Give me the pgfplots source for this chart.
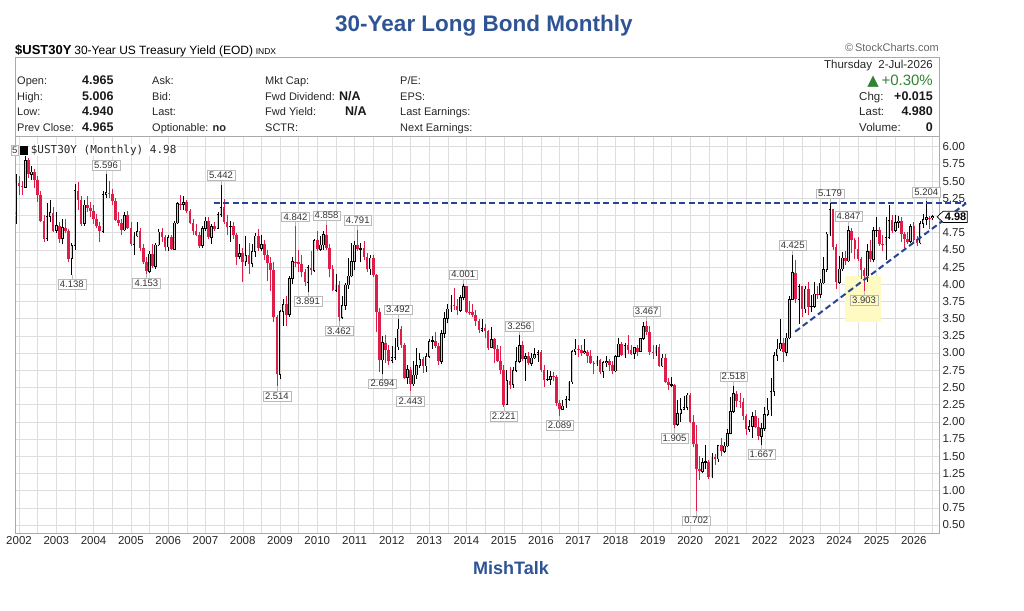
\documentclass[border=0pt]{standalone}
\usepackage{pgfplots}
\pgfplotsset{compat=1.18}
\usepackage{pgfplotstable}
\usepackage{fontspec}
\setmainfont{Liberation Sans}
\newfontfamily\dejavu{DejaVu Sans}
\newfontfamily\monofont{DejaVu Sans Mono}
\definecolor{titleblue}{RGB}{46,84,150}
\definecolor{candlered}{RGB}{222,30,72}
\definecolor{linenavy}{RGB}{40,68,150}
\definecolor{upgreen}{RGB}{50,130,50}
\definecolor{gridgray}{RGB}{222,222,222}
\definecolor{framegray}{RGB}{170,170,170}
\definecolor{lblgray}{RGB}{185,185,185}
\definecolor{hiyellow}{RGB}{255,250,195}

\pgfplotstableread{
i o h l c
-1 5.05 5.60 4.88 5.47
0 5.47 5.58 5.30 5.43
1 5.43 5.50 5.30 5.41
2 5.41 5.86 5.40 5.80
3 5.80 5.84 5.55 5.60
4 5.60 5.72 5.52 5.63
5 5.63 5.68 5.40 5.51
6 5.51 5.58 5.20 5.30
7 5.30 5.35 4.90 4.92
8 4.92 5.00 4.62 4.66
9 4.66 5.18 4.63 4.98
10 4.98 5.22 4.90 5.04
11 5.04 5.12 4.76 4.78
12 4.78 5.05 4.75 4.85
13 4.85 4.90 4.60 4.66
14 4.66 4.95 4.58 4.82
15 4.82 4.95 4.75 4.78
16 4.78 4.80 4.32 4.37
17 4.37 4.60 4.138 4.56
18 4.56 5.45 4.50 5.36
19 5.36 5.48 5.08 5.22
20 5.22 5.28 4.85 4.88
21 4.88 5.22 4.85 5.15
22 5.15 5.28 5.05 5.11
23 5.11 5.20 4.98 5.07
24 5.07 5.15 4.88 4.95
25 4.95 5.02 4.82 4.84
26 4.84 4.90 4.62 4.77
27 4.77 5.36 4.75 5.30
28 5.30 5.596 5.25 5.33
29 5.33 5.50 5.25 5.31
30 5.31 5.38 5.15 5.21
31 5.21 5.25 4.92 4.93
32 4.93 5.05 4.84 4.89
33 4.89 4.95 4.72 4.79
34 4.79 5.05 4.78 5.00
35 5.00 5.07 4.80 4.82
36 4.82 4.90 4.55 4.58
37 4.58 4.76 4.43 4.70
38 4.70 4.90 4.68 4.77
39 4.77 4.82 4.48 4.52
40 4.52 4.58 4.30 4.32
41 4.32 4.40 4.153 4.19
42 4.19 4.48 4.17 4.44
43 4.44 4.58 4.24 4.26
44 4.26 4.60 4.22 4.57
45 4.57 4.80 4.55 4.76
46 4.76 4.82 4.62 4.69
47 4.69 4.72 4.48 4.54
48 4.54 4.72 4.48 4.68
49 4.68 4.72 4.50 4.51
50 4.51 4.92 4.50 4.89
51 4.89 5.20 4.87 5.17
52 5.17 5.30 5.08 5.16
53 5.16 5.28 5.08 5.19
54 5.19 5.23 5.03 5.07
55 5.07 5.10 4.87 4.89
56 4.89 4.95 4.72 4.77
57 4.77 4.88 4.70 4.72
58 4.72 4.76 4.52 4.56
59 4.56 4.84 4.53 4.81
60 4.81 4.98 4.78 4.92
61 4.92 4.98 4.66 4.68
62 4.68 4.88 4.58 4.84
63 4.84 4.90 4.77 4.81
64 4.81 5.05 4.80 5.01
65 5.01 5.442 4.98 5.12
66 5.12 5.24 4.88 4.91
67 4.91 5.00 4.72 4.83
68 4.83 4.92 4.62 4.84
69 4.84 4.90 4.66 4.72
70 4.72 4.74 4.28 4.40
71 4.40 4.58 4.36 4.45
72 4.45 4.52 4.03 4.33
73 4.33 4.70 4.26 4.42
74 4.42 4.60 4.15 4.30
75 4.30 4.58 4.25 4.48
76 4.48 4.74 4.40 4.70
77 4.70 4.80 4.48 4.52
78 4.52 4.72 4.48 4.58
79 4.58 4.64 4.35 4.42
80 4.42 4.50 4.05 4.31
81 4.31 4.40 3.90 4.20
82 4.20 4.32 3.45 3.52
83 3.52 3.55 2.514 2.69
84 2.69 3.62 2.62 3.60
85 3.60 3.78 3.40 3.71
86 3.71 3.83 3.39 3.56
87 3.56 4.12 3.52 4.08
88 4.08 4.40 4.00 4.33
89 4.33 4.842 4.25 4.32
90 4.32 4.50 4.18 4.30
91 4.30 4.42 4.10 4.18
92 4.18 4.22 3.98 4.03
93 4.03 4.28 3.891 4.24
94 4.24 4.48 4.13 4.20
95 4.20 4.66 4.18 4.64
96 4.64 4.77 4.48 4.51
97 4.51 4.70 4.49 4.57
98 4.57 4.78 4.50 4.72
99 4.72 4.858 4.50 4.53
100 4.53 4.58 4.10 4.22
101 4.22 4.28 3.90 3.91
102 3.91 4.15 3.88 3.99
103 3.99 4.05 3.462 3.52
104 3.52 3.83 3.50 3.69
105 3.69 4.02 3.63 3.99
106 3.99 4.38 3.93 4.12
107 4.12 4.60 4.10 4.33
108 4.33 4.63 4.20 4.57
109 4.57 4.791 4.48 4.51
110 4.51 4.60 4.32 4.52
111 4.52 4.63 4.35 4.40
112 4.40 4.46 4.18 4.22
113 4.22 4.42 4.14 4.38
114 4.38 4.43 4.10 4.13
115 4.13 4.15 3.30 3.60
116 3.60 3.65 2.72 2.90
117 2.90 3.25 2.694 3.15
118 3.15 3.26 2.86 3.05
119 3.05 3.12 2.82 2.89
120 2.89 3.10 2.85 2.94
121 2.94 3.22 2.90 3.09
122 3.09 3.492 3.05 3.35
123 3.35 3.40 3.08 3.12
124 3.12 3.15 2.62 2.64
125 2.64 2.83 2.55 2.76
126 2.76 2.80 2.443 2.55
127 2.55 2.88 2.52 2.68
128 2.68 3.08 2.62 2.82
129 2.82 3.00 2.78 2.91
130 2.91 2.94 2.71 2.81
131 2.81 3.00 2.72 2.95
132 2.95 3.20 2.93 3.17
133 3.17 3.25 3.06 3.18
134 3.18 3.30 3.08 3.10
135 3.10 3.15 2.83 2.88
136 2.88 3.34 2.84 3.28
137 3.28 3.60 3.22 3.50
138 3.50 3.72 3.43 3.64
139 3.64 3.84 3.60 3.70
140 3.70 3.94 3.62 3.68
141 3.68 3.79 3.55 3.62
142 3.62 3.85 3.60 3.81
143 3.81 4.001 3.77 3.97
144 3.97 3.98 3.58 3.60
145 3.60 3.75 3.55 3.59
146 3.59 3.72 3.52 3.56
147 3.56 3.62 3.40 3.47
148 3.47 3.50 3.29 3.33
149 3.33 3.50 3.30 3.36
150 3.36 3.42 3.22 3.32
151 3.32 3.33 3.04 3.08
152 3.08 3.38 3.07 3.20
153 3.20 3.22 2.85 3.06
154 3.06 3.12 2.87 2.89
155 2.89 3.10 2.70 2.75
156 2.75 2.83 2.221 2.25
157 2.25 2.75 2.24 2.60
158 2.60 2.79 2.48 2.54
159 2.54 2.79 2.49 2.75
160 2.75 3.09 2.72 2.88
161 2.88 3.256 2.85 3.11
162 3.11 3.18 2.88 2.92
163 2.92 3.00 2.60 2.95
164 2.95 3.02 2.82 2.85
165 2.85 3.00 2.81 2.93
166 2.93 3.08 2.92 2.98
167 2.98 3.05 2.87 3.01
168 3.01 3.05 2.72 2.75
169 2.75 2.82 2.50 2.61
170 2.61 2.75 2.59 2.62
171 2.62 2.74 2.54 2.66
172 2.66 2.72 2.60 2.65
173 2.65 2.68 2.23 2.28
174 2.28 2.32 2.089 2.18
175 2.18 2.32 2.17 2.23
176 2.23 2.38 2.20 2.32
177 2.32 2.60 2.30 2.58
178 2.58 3.05 2.55 3.02
179 3.02 3.20 2.97 3.06
180 3.06 3.11 2.94 3.05
181 3.05 3.11 2.96 3.00
182 3.00 3.20 2.98 3.02
183 3.02 3.04 2.86 2.96
184 2.96 3.04 2.84 2.86
185 2.86 2.89 2.69 2.84
186 2.84 2.95 2.81 2.90
187 2.90 2.92 2.70 2.73
188 2.73 2.89 2.64 2.86
189 2.86 2.95 2.79 2.88
190 2.88 2.91 2.74 2.83
191 2.83 2.88 2.70 2.74
192 2.74 2.97 2.72 2.95
193 2.95 3.22 2.94 3.13
194 3.13 3.16 2.95 2.97
195 2.97 3.14 2.93 3.11
196 3.11 3.26 2.98 3.04
197 3.04 3.12 2.97 2.99
198 2.99 3.09 2.92 3.08
199 3.08 3.11 2.96 3.02
200 3.02 3.22 3.01 3.21
201 3.21 3.45 3.19 3.39
202 3.39 3.467 3.26 3.31
203 3.31 3.39 2.97 3.02
204 3.02 3.11 2.91 3.00
205 3.00 3.12 2.95 3.09
206 3.09 3.13 2.79 2.81
207 2.81 2.98 2.80 2.93
208 2.93 2.99 2.56 2.58
209 2.58 2.63 2.46 2.53
210 2.53 2.65 2.50 2.54
211 2.54 2.55 1.905 1.96
212 1.96 2.32 1.94 2.12
213 2.12 2.35 2.00 2.18
214 2.18 2.38 2.17 2.21
215 2.21 2.42 2.17 2.39
216 2.39 2.42 1.99 2.00
217 2.00 2.10 1.63 1.68
218 1.68 1.95 0.702 1.32
219 1.32 1.50 1.16 1.28
220 1.28 1.48 1.25 1.41
221 1.41 1.67 1.32 1.42
222 1.42 1.45 1.17 1.20
223 1.20 1.55 1.19 1.49
224 1.49 1.53 1.37 1.46
225 1.46 1.67 1.42 1.66
226 1.66 1.77 1.50 1.57
227 1.57 1.70 1.54 1.65
228 1.65 1.90 1.63 1.83
229 1.83 2.36 1.82 2.15
230 2.15 2.518 2.13 2.41
231 2.41 2.45 2.21 2.30
232 2.30 2.42 2.20 2.29
233 2.29 2.35 2.03 2.09
234 2.09 2.12 1.81 1.89
235 1.89 2.03 1.85 1.93
236 1.93 2.14 1.77 2.08
237 2.08 2.17 1.91 1.93
238 1.93 2.06 1.74 1.79
239 1.79 1.98 1.667 1.90
240 1.90 2.21 1.87 2.11
241 2.11 2.34 2.08 2.17
242 2.17 2.63 2.08 2.44
243 2.44 3.02 2.38 2.96
244 2.96 3.20 2.88 3.06
245 3.06 3.49 3.03 3.14
246 3.14 3.22 2.87 3.01
247 3.01 3.29 2.95 3.22
248 3.22 3.83 3.20 3.78
249 3.78 4.425 3.77 4.17
250 4.17 4.35 3.73 3.78
251 3.78 4.00 3.42 3.97
252 3.97 3.98 3.53 3.64
253 3.64 3.98 3.58 3.93
254 3.93 4.03 3.56 3.67
255 3.67 3.84 3.60 3.68
256 3.68 4.03 3.65 3.86
257 3.86 3.98 3.79 3.85
258 3.85 4.08 3.80 4.02
259 4.02 4.40 4.01 4.21
260 4.21 4.76 4.18 4.73
261 4.73 5.179 4.70 5.09
262 5.09 5.10 4.50 4.54
263 4.54 4.58 3.93 4.03
264 4.03 4.41 4.00 4.22
265 4.22 4.47 4.19 4.38
266 4.38 4.48 4.28 4.34
267 4.34 4.847 4.32 4.78
268 4.78 4.82 4.45 4.65
269 4.65 4.67 4.36 4.51
270 4.51 4.68 4.34 4.36
271 4.36 4.40 4.08 4.20
272 4.20 4.24 3.903 4.12
273 4.12 4.58 4.03 4.48
274 4.48 4.65 4.33 4.36
275 4.36 4.83 4.32 4.78
276 4.78 4.98 4.69 4.79
277 4.79 4.83 4.55 4.59
278 4.59 4.72 4.49 4.57
279 4.57 4.98 4.35 4.68
280 4.68 5.15 4.66 4.93
281 4.93 5.00 4.74 4.78
282 4.78 5.00 4.76 4.90
283 4.90 4.99 4.82 4.92
284 4.92 4.98 4.62 4.73
285 4.73 4.76 4.52 4.66
286 4.66 4.76 4.59 4.62
287 4.62 4.88 4.60 4.84
288 4.84 4.90 4.60 4.65
289 4.65 4.70 4.55 4.60
290 4.60 4.92 4.58 4.88
291 4.88 5.02 4.82 4.94
292 4.94 5.204 4.86 4.97
293 4.97 4.99 4.80 4.965
294 4.965 5.006 4.94 4.98
}\ohlc

\tikzset{
  lbl/.style={draw=lblgray, fill=white, font=\fontsize{9.5}{10}\selectfont, text=black!80, inner xsep=2pt, inner ysep=1.5pt},
  hdr/.style={font=\fontsize{11}{12}\selectfont, anchor=base west, inner sep=0pt, text=black!85},
  hdrb/.style={font=\bfseries\fontsize{12.5}{13}\selectfont, anchor=base west, inner sep=0pt, text=black!90},
  rhdr/.style={font=\fontsize{11.5}{12}\selectfont, anchor=base west, inner sep=0pt, text=black!85},
  rhdrb/.style={font=\bfseries\fontsize{12.5}{13}\selectfont, anchor=base east, inner sep=0pt, text=black!90},
}
\newcommand{\hilab}[3]{\draw[draw=lblgray] (axis cs:#1,#2) -- ++(0pt,4.5pt) node[lbl,anchor=south]{#3};}
\newcommand{\lolab}[3]{\draw[draw=lblgray] (axis cs:#1,#2) -- ++(0pt,-4.5pt) node[lbl,anchor=north]{#3};}

\begin{document}
\begin{tikzpicture}[x=1pt,y=1pt]
\path[use as bounding box] (0,0) rectangle (1024,610);
% title
\node[anchor=base west, inner sep=0pt, font=\bfseries\fontsize{22.5}{26}\selectfont, text=titleblue] at (335,578) {30-Year Long Bond Monthly};
% symbol line
\node[anchor=base west, inner sep=0pt] at (15,555.7) {{\bfseries\fontsize{13}{14}\selectfont \$UST30Y} {\fontsize{12}{13}\selectfont 30-Year US Treasury Yield (EOD)} {\fontsize{8.5}{9}\selectfont INDX}};
\node[anchor=base east, inner sep=0pt, text=black!60, font=\fontsize{11}{12}\selectfont] at (939,558) {\textcopyright\,StockCharts.com};
% header box
\draw[draw=framegray] (15,553) rectangle (939,474);
\node[hdr] at (17,525) {Open:};      \node[hdrb] at (82,525) {4.965};
\node[hdr] at (17,509.5) {High:};    \node[hdrb] at (82,509.5) {5.006};
\node[hdr] at (17,494) {Low:};       \node[hdrb] at (82,494) {4.940};
\node[hdr] at (17,478.5) {Prev Close:}; \node[hdrb] at (82,478.5) {4.965};
\node[hdr] at (152,525) {Ask:};
\node[hdr] at (152,509.5) {Bid:};
\node[hdr] at (152,494) {Last:};
\node[hdr] at (152,478.5) {Optionable: \textbf{no}};
\node[hdr] at (265,525) {Mkt Cap:};
\node[hdr] at (265,509.5) {Fwd Dividend:}; \node[hdrb] at (339,509.5) {N/A};
\node[hdr] at (265,494) {Fwd Yield:};      \node[hdrb] at (345,494) {N/A};
\node[hdr] at (265,478.5) {SCTR:};
\node[hdr] at (400,525) {P/E:};
\node[hdr] at (400,509.5) {EPS:};
\node[hdr] at (400,494) {Last Earnings:};
\node[hdr] at (400,478.5) {Next Earnings:};
% right block
\node[anchor=base east, inner sep=0pt, font=\fontsize{11.5}{12}\selectfont, text=black!85] at (933,541.5) {Thursday\ \ 2-Jul-2026};
\node[anchor=base east, inner sep=0pt, font=\fontsize{15}{16}\selectfont, text=upgreen] at (933,524.5) {{\dejavu ▲}\,+0.30\%};
\node[rhdr] at (859,509.5) {Chg:};    \node[rhdrb] at (933,509.5) {+0.015};
\node[rhdr] at (859,494) {Last:};     \node[rhdrb] at (933,494) {4.980};
\node[rhdr] at (859,478) {Volume:};   \node[rhdrb] at (933,478) {0};

\begin{axis}[
  at={(15pt,77pt)}, anchor=south west,
  scale only axis, width=924pt, height=397pt,
  xmin=-1.29, xmax=296.1, ymin=0.384, ymax=6.155,
  clip=false,
  axis line style={draw=framegray},
  xtick={0,12,...,288},
  xticklabels={2002,2003,2004,2005,2006,2007,2008,2009,2010,2011,2012,2013,2014,2015,2016,2017,2018,2019,2020,2021,2022,2023,2024,2025,2026},
  minor xtick={6,18,...,294},
  ytick={0.5,0.75,1,1.25,1.5,1.75,2,2.25,2.5,2.75,3,3.25,3.5,3.75,4,4.25,4.5,4.75,5.25,5.5,5.75,6},
  extra y ticks={5},
  extra y tick labels={},
  extra y tick style={grid=major, major grid style={draw=gridgray}, tick style={draw=none}},
  yticklabel pos=right,
  yticklabel={\pgfmathprintnumber[fixed,fixed zerofill,precision=2]{\tick}},
  /pgf/number format/assume math mode=true,
  grid=both,
  major grid style={draw=gridgray},
  minor grid style={draw=gridgray},
  tick style={draw=none},
  tick label style={font=\fontsize{11.5}{13}\selectfont, text=black!85},
]
% highlight
\fill[hiyellow] (axis cs:265.9,3.452) rectangle (axis cs:277.4,4.121);
% wicks of rising months (black)
\addplot[forget plot, mark=none, draw=black, line width=0.7pt, line cap=butt,
  quiver={u=0, v={(1-(\thisrow{c}<\thisrow{o}))*(\thisrow{h}-\thisrow{l})}}]
  table[x=i, y=l] {\ohlc};
% wicks of falling months (red)
\addplot[forget plot, mark=none, draw=candlered, line width=0.7pt, line cap=butt,
  quiver={u=0, v={(\thisrow{c}<\thisrow{o})*(\thisrow{h}-\thisrow{l})}}]
  table[x=i, y=l] {\ohlc};
% hollow bodies of rising months: outline
\addplot[forget plot, mark=none, draw=black, line width=2.6pt, line cap=butt,
  quiver={u=0, v={(1-(\thisrow{c}<\thisrow{o}))*(\thisrow{c}-\thisrow{o}+0.01)}}]
  table[x=i, y expr={\thisrow{o}-0.005}] {\ohlc};
% hollow bodies of rising months: inside
\addplot[forget plot, mark=none, draw=gray!40, line width=1.0pt, line cap=butt,
  quiver={u=0, v={(1-(\thisrow{c}<\thisrow{o}))*max(\thisrow{c}-\thisrow{o}-0.01,0)}}]
  table[x=i, y expr={\thisrow{o}+0.005}] {\ohlc};
% bodies of falling months (red)
\addplot[forget plot, mark=none, draw=candlered, line width=2.6pt, line cap=butt,
  quiver={u=0, v={(\thisrow{c}<\thisrow{o})*(\thisrow{c}-\thisrow{o})}}]
  table[x=i, y=o] {\ohlc};
% resistance and trend lines
\addplot[draw=linenavy, line width=2pt, dash pattern=on 6pt off 3.5pt, forget plot] coordinates {(62.7,5.175) (304.8,5.175)};
\addplot[draw=linenavy, line width=2pt, dash pattern=on 6pt off 3.5pt, forget plot] coordinates {(249.8,3.311) (304.8,5.177)};
% labels
\hilab{28}{5.596}{5.596}
\lolab{17}{4.138}{4.138}
\lolab{41}{4.153}{4.153}
\hilab{65}{5.442}{5.442}
\lolab{83}{2.514}{2.514}
\hilab{89}{4.842}{4.842}
\lolab{93}{3.891}{3.891}
\hilab{99}{4.858}{4.858}
\lolab{103}{3.462}{3.462}
\hilab{109}{4.791}{4.791}
\lolab{117}{2.694}{2.694}
\hilab{122}{3.492}{3.492}
\lolab{126}{2.443}{2.443}
\hilab{143}{4.001}{4.001}
\lolab{156}{2.221}{2.221}
\hilab{161}{3.256}{3.256}
\lolab{174}{2.089}{2.089}
\hilab{202}{3.467}{3.467}
\lolab{211}{1.905}{1.905}
\lolab{218}{0.702}{0.702}
\hilab{230}{2.518}{2.518}
\lolab{239}{1.667}{1.667}
\hilab{249}{4.425}{4.425}
\hilab{261}{5.179}{5.179}
\hilab{267}{4.847}{4.847}
\draw[draw=lblgray] (axis cs:272,3.903) -- ++(0pt,-4.5pt) node[lbl,anchor=north,fill=hiyellow]{3.903};
\hilab{292}{5.204}{5.204}
% partly hidden label of the 2002 high, legend icon and text
\node[lbl, anchor=east, inner xsep=1pt] at ([xshift=-2pt]axis cs:0.5,5.95) {5};
\fill[black] (axis cs:0.5,5.95) ++(-1pt,-4.5pt) rectangle ++(8pt,9pt);
\node[anchor=west, fill=white, inner sep=1pt, font=\monofont\fontsize{11}{12}\selectfont, text=black!85] at ([xshift=9pt]axis cs:0.5,5.95) {\$UST30Y (Monthly) 4.98};
% last price box
\draw[draw=black, fill=white, line width=0.7pt] (axis cs:295.5,4.98) -- ++(6pt,5.6pt) -- ++(24pt,0pt) -- ++(0pt,-11.2pt) -- ++(-24pt,0pt) -- cycle;
\node[font=\bfseries\fontsize{11}{12}\selectfont, inner sep=0pt] at ([xshift=18.5pt]axis cs:295.5,4.98) {4.98};
\end{axis}
\node[anchor=base west, inner sep=0pt, font=\bfseries\fontsize{18}{20}\selectfont, text=titleblue] at (473,36) {MishTalk};
\end{tikzpicture}
\end{document}
